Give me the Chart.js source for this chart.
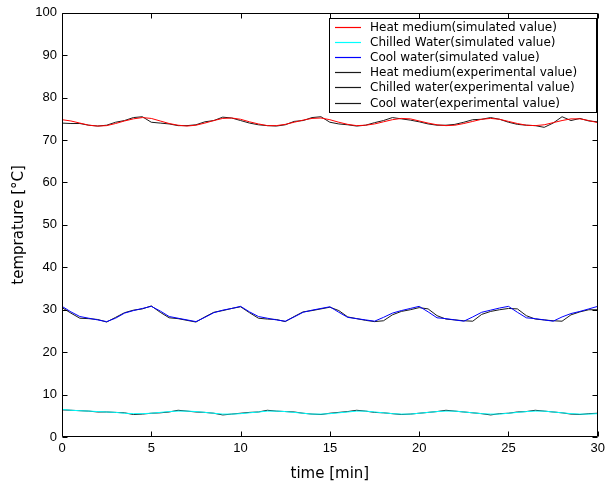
<!DOCTYPE html>
<html><head><meta charset="utf-8">
<script src="https://cdn.jsdelivr.net/npm/chart.js@4/dist/chart.umd.min.js"></script>
<style>html,body{margin:0;padding:0;background:#fff;overflow:hidden;}</style>
</head><body>
<canvas id="c" width="609" height="488"></canvas>
<script>
// time [min]
const timeMin = [0,0.5,1,1.5,2,2.5,3,3.5,4,4.5,5,5.5,6,6.5,7,7.5,8,8.5,9,9.5,10,10.5,11,11.5,12,12.5,13,13.5,14,14.5,15,15.5,16,16.5,17,17.5,18,18.5,19,19.5,20,20.5,21,21.5,22,22.5,23,23.5,24,24.5,25,25.5,26,26.5,27,27.5,28,28.5,29,29.5,30];

const heatSim = [74.8,74.5,74.0,73.5,73.3,73.4,73.9,74.5,75.0,75.3,75.1,74.5,73.9,73.5,73.3,73.5,74.0,74.6,75.1,75.2,74.9,74.3,73.8,73.4,73.4,73.7,74.2,74.7,75.1,75.2,74.8,74.2,73.7,73.4,73.5,73.8,74.3,74.8,75.1,75.0,74.5,74.0,73.6,73.4,73.5,73.9,74.4,74.9,75.1,74.9,74.4,73.9,73.5,73.4,73.6,74.1,74.6,75.0,75.0,74.6,74.1];
const chilledSim = [6.5,6.3,6.2,6.1,6.0,5.9,5.8,5.6,5.5,5.5,5.6,5.8,6.0,6.1,6.1,6.0,5.8,5.6,5.4,5.4,5.5,5.7,5.9,6.1,6.1,6.0,5.8,5.6,5.4,5.4,5.5,5.7,5.9,6.1,6.1,5.9,5.7,5.5,5.4,5.4,5.6,5.8,6.0,6.1,6.1,5.9,5.7,5.5,5.4,5.4,5.6,5.8,6.0,6.1,6.1,5.9,5.7,5.5,5.4,5.4,5.5];
const coolSim = [30.8,29.5,28.4,28.0,27.6,27.2,28.0,29.2,29.8,30.3,30.8,29.7,28.4,28.0,27.6,27.2,28.2,29.3,29.9,30.3,30.8,29.5,28.4,28.0,27.6,27.3,28.3,29.4,29.9,30.3,30.7,29.4,28.2,27.9,27.6,27.3,28.2,29.2,29.8,30.3,30.8,29.5,28.1,27.9,27.6,27.3,28.3,29.4,29.9,30.4,30.8,29.4,28.1,27.9,27.6,27.3,28.3,29.1,29.6,30.2,30.8];

const heatExp = [74.0,73.9,73.9,73.5,73.3,73.5,74.2,74.6,75.3,75.5,74.2,74.0,73.8,73.4,73.4,73.6,74.3,74.6,75.4,75.2,74.6,74.0,73.6,73.4,73.3,73.6,74.4,74.6,75.3,75.5,74.2,73.8,73.6,73.3,73.5,74.1,74.6,75.3,75.0,74.7,74.3,73.8,73.5,73.5,73.7,74.2,74.8,74.9,75.3,74.9,74.2,73.7,73.5,73.4,73.0,74.0,75.5,74.6,75.1,74.5,74.3];
const chilledExp = [6.4,6.3,6.2,6.1,5.9,5.9,5.8,5.7,5.3,5.4,5.6,5.7,5.9,6.3,6.1,5.9,5.8,5.6,5.2,5.4,5.6,5.8,5.9,6.3,6.1,6.0,5.9,5.6,5.4,5.3,5.6,5.8,6.0,6.3,6.1,5.8,5.7,5.5,5.3,5.4,5.6,5.8,6.0,6.3,6.1,5.9,5.7,5.5,5.2,5.5,5.6,5.9,6.0,6.3,6.1,5.9,5.7,5.4,5.3,5.5,5.6];
const coolExp = [30.5,29.2,28.0,27.9,27.7,27.1,28.2,29.3,29.9,30.2,30.9,29.4,28.1,27.9,27.5,27.1,28.3,29.4,29.8,30.3,30.7,29.3,28.0,27.8,27.7,27.2,28.4,29.5,29.8,30.2,30.6,29.8,28.3,27.9,27.5,27.2,27.4,28.8,29.6,30.0,30.5,30.2,28.6,27.8,27.6,27.4,27.3,28.9,29.6,30.0,30.3,30.2,28.6,27.8,27.6,27.4,27.3,28.8,29.5,30.0,30.0];

const xTicks = [0,5,10,15,20,25,30];
const yTicks = [0,10,20,30,40,50,60,70,80,90,100];

const seriesLabels = ['Heat medium(simulated value)','Chilled Water(simulated value)','Cool water(simulated value)','Heat medium(experimental value)','Chilled water(experimental value)','Cool water(experimental value)'];
const seriesValues = [heatSim, chilledSim, coolSim, heatExp, chilledExp, coolExp];
const seriesColors = ['#ff0000','#00ffff','#0000ff','#1a1a1a','#1a1a1a','#1a1a1a'];

const datasets = seriesLabels.map((lab,i)=>({
  label: lab,
  data: timeMin.map((t,k)=>({x:t, y:seriesValues[i][k]})),
  borderColor: seriesColors[i],
  backgroundColor: seriesColors[i],
  borderWidth: 1,
  pointRadius: 0,
  tension: 0,
  fill: false
}));

const frame = {
  id: 'frame',
  afterDatasetsDraw(chart){
    const {ctx, chartArea:a, scales:{x, y}} = chart;
    ctx.save();
    ctx.strokeStyle = '#000';
    ctx.lineWidth = 1;
    const L = Math.round(a.left)+0.5, R = Math.round(a.right)-0.5, T = Math.round(a.top)+0.5, B = Math.round(a.bottom)-0.5;
    ctx.beginPath();
    ctx.rect(L, T, R-L, B-T);
    const tl = 5;
    xTicks.forEach(v=>{
      const px = Math.round(x.getPixelForValue(v))+0.5;
      ctx.moveTo(px,B); ctx.lineTo(px,B-tl);
      ctx.moveTo(px,T); ctx.lineTo(px,T+tl);
    });
    yTicks.forEach(v=>{
      const py = Math.round(y.getPixelForValue(v))+0.5;
      ctx.moveTo(L,py); ctx.lineTo(L+tl,py);
      ctx.moveTo(R,py); ctx.lineTo(R-tl,py);
    });
    ctx.stroke();

    // legend
    const bx = 329.5, by = 18.5, bw = 267, bh = 94;
    ctx.fillStyle = '#fff';
    ctx.fillRect(bx, by, bw, bh);
    ctx.strokeStyle = '#000';
    ctx.strokeRect(bx, by, bw, bh);
    ctx.font = '12px "DejaVu Sans", sans-serif';
    ctx.textBaseline = 'middle';
    ctx.textAlign = 'left';
    seriesLabels.forEach((lab,i)=>{
      const cy = Math.round(27 + i*15.1)+0.5;
      ctx.strokeStyle = seriesColors[i];
      ctx.lineWidth = 1.2;
      ctx.beginPath(); ctx.moveTo(335, cy); ctx.lineTo(361, cy); ctx.stroke();
      ctx.fillStyle = '#000';
      ctx.fillText(lab, 370, cy);
    });
    ctx.restore();
  }
};

new Chart(document.getElementById('c'), {
  type: 'line',
  data: { datasets },
  options: {
    responsive: false,
    animation: false,
    devicePixelRatio: 1,
    layout: { padding: { top: 12, right: 6, left: 0, bottom: 0 } },
    plugins: { legend: { display: false }, tooltip: { enabled: false } },
    scales: {
      x: {
        type: 'linear', min: 0, max: 30,
        afterFit(s){ s.height = 51; },
        afterBuildTicks(s){ s.ticks = xTicks.map(v=>({value:v})); },
        grid: { drawOnChartArea: false, drawTicks: false },
        border: { display: false },
        ticks: { color: '#000', padding: 4, maxRotation: 0, font: { family: '"Liberation Sans", Arial, sans-serif', size: 13 } },
        title: { display: true, text: 'time [min]', color: '#000', padding: { top: 0, bottom: 5 }, font: { family: '"DejaVu Sans", sans-serif', size: 15 } }
      },
      y: {
        type: 'linear', min: 0, max: 100,
        afterFit(s){ s.width = 62; },
        afterBuildTicks(s){ s.ticks = yTicks.map(v=>({value:v})); },
        grid: { drawOnChartArea: false, drawTicks: false },
        border: { display: false },
        ticks: { color: '#000', padding: 5, font: { family: '"Liberation Sans", Arial, sans-serif', size: 13 } },
        title: { display: true, text: 'temprature [°C]', color: '#000', padding: { top: 10, bottom: 0 }, font: { family: '"DejaVu Sans", sans-serif', size: 15 } }
      }
    }
  },
  plugins: [frame]
});
</script>
</body></html>
